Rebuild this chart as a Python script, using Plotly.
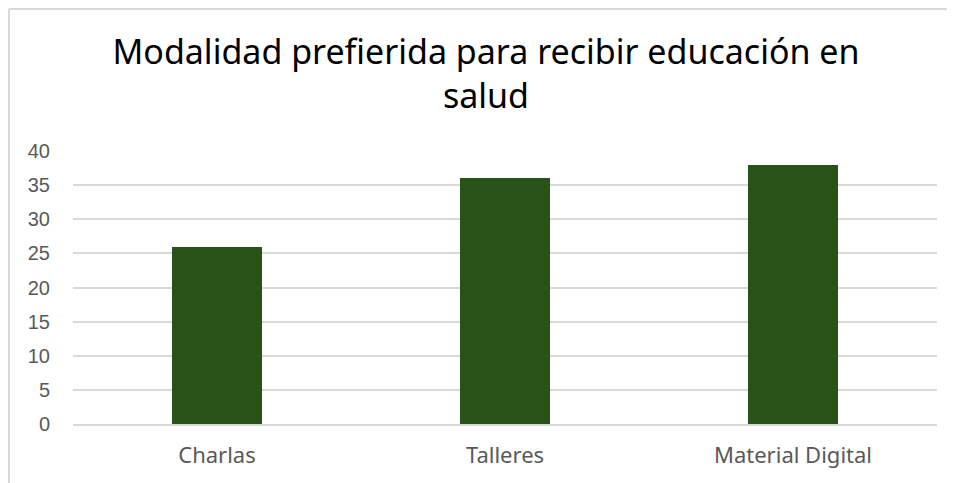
import plotly.graph_objects as go

categories = ["Charlas", "Talleres", "Material Digital"]
values = [26, 36, 38]
y_ticks = [0, 5, 10, 15, 20, 25, 30, 35, 40]

# page body has an 8px offset; compensate so the chart lands where intended
OFF = 8
W, H = 955, 483
L, R, T, B = 73 - OFF, 18 + OFF, 151 - OFF, 59 + OFF
pw = W - L - R
ph = H - T - B

fig = go.Figure()
fig.add_trace(go.Bar(x=categories, y=values, marker=dict(color="#285318", line=dict(width=0)), width=0.3125))

fig.update_layout(
    width=W, height=H,
    margin=dict(l=L, r=R, t=T, b=B),
    paper_bgcolor="white", plot_bgcolor="white",
    showlegend=False,
    title=dict(text="Modalidad prefierida para recibir educación en<br>salud",
               x=(486 - OFF) / W, xref="container", xanchor="center",
               y=1 - (64 - OFF) / H, yref="container", yanchor="middle",
               font=dict(family="Noto Sans", size=34, color="#000000")),
    font=dict(family="Noto Sans", color="#595959", size=20),
    bargap=0,
)
fig.update_yaxes(range=[0, 40], tickvals=y_ticks, showgrid=True, gridcolor="#d9d9d9", gridwidth=1.5,
                 zeroline=False, showline=False, ticks="", ticklabelstandoff=22,
                 tickfont=dict(family="Liberation Sans", size=20, color="#595959"))
fig.update_xaxes(showline=True, linecolor="#d9d9d9", linewidth=1.5, ticks="", ticklabelstandoff=11,
                 tickfont=dict(family="Noto Sans", size=22, color="#595959"))

# chart-area border (only top and left edges are visible in the reference)
bx = (1 - L) / pw
by = (H - B - 1) / ph
border = dict(color="#d9d9d9", width=2)
fig.add_shape(type="line", xref="paper", yref="paper", x0=bx, x1=(W - L) / pw, y0=by, y1=by,
              line=border, layer="below")
fig.add_shape(type="line", xref="paper", yref="paper", x0=bx, x1=bx, y0=by, y1=-B / ph,
              line=border, layer="below")

fig.write_html("out.html")
